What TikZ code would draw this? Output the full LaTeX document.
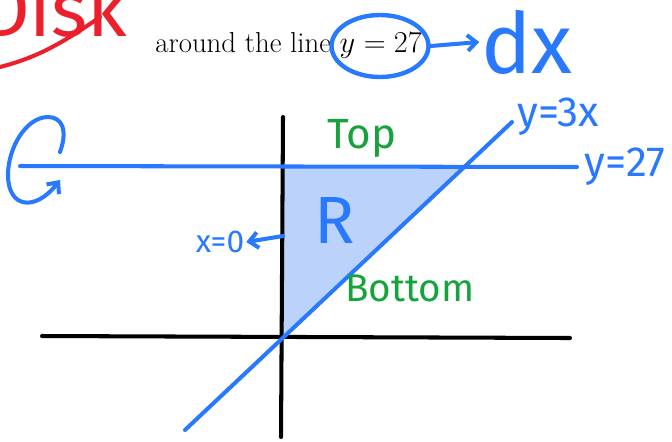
\documentclass[tikz,border=0pt]{standalone}
\usepackage{amsmath}
\usepackage{fontspec}
\newfontfamily\handfont{Fira Sans}
\usetikzlibrary{arrows.meta,shapes.geometric}
\definecolor{penblue}{RGB}{41,121,255}
\definecolor{pengreen}{RGB}{22,163,60}
\definecolor{penred}{RGB}{236,32,44}
\definecolor{regionfill}{RGB}{187,211,251}

\begin{document}
\begin{tikzpicture}[x=0.02cm,y=-0.02cm,>={Straight Barb[length=5pt,width=9pt]}, line join=round, line cap=round,
	pen/.style={penblue,line width=2.3pt},
	axis/.style={black,line width=2.3pt},
	hand/.style={font=\handfont\fontsize{#1}{#1}\selectfont, inner sep=1pt}]
	\def\xmin{0} \def\xmax{672} \def\ymin{0} \def\ymax{441}
	\useasboundingbox (\xmin,\ymin) rectangle (\xmax,\ymax);
	\clip (\xmin,\ymin) rectangle (\xmax,\ymax);
	% heading
	\node[hand=44, text=penred, anchor=base west] (disk) at (-22,36) {Disk};
	\draw[penred,line width=2.3pt] (0,67) .. controls (35,58) and (60,45) .. (100,17);
	\node[anchor=base west, font=\fontsize{16.4}{20}\selectfont, inner sep=0pt] (line) at (155,52) {around the line $y=27$};
	\node[draw=penblue, line width=2.5pt, ellipse, minimum width=1.94cm, minimum height=1.24cm] (ring) at (380,46) {};
	\node[hand=48, text=penblue] (dx) at (527,42) {dx};
	\draw[pen,->] (ring.east) -- (dx.west);
	% region
	\coordinate (O) at (283,337);
	\coordinate (A) at (283,166);
	\coordinate (B) at (462,166);
	\fill[regionfill] (O)--(A)--(B)--cycle;
	\draw[axis] (42,336)--(570,338);
	\draw[axis] (283,117)--(281,437);
	\draw[pen] (20,166)--(577,167) node[hand=24, text=penblue, anchor=west, xshift=2pt] (top line) {y=27};
	\draw[pen] (185,430)--(512,122) node[hand=24, text=penblue, anchor=south west, xshift=1pt, yshift=-10pt] (slant line) {y=3x};
	% labels
	\node[hand=24, text=pengreen] (top) at (362,138) {Top};
	\node[hand=22, text=pengreen] (bottom) at (410,288) {Bottom};
	\node[hand=38, text=penblue] (R) at (335,220) {R};
	\node[hand=18, text=penblue] (x0) at (220,242) {x=0};
	\coordinate (yaxis) at (283,236);
	\draw[pen,->] (yaxis) -- (x0.east);
	% rotation
	\draw[pen,->] (60,152) .. controls (68,130) and (62,117) .. (48,117)
		.. controls (26,117) and (8,148) .. (8,175)
		.. controls (8,208) and (35,212) .. (60,180);
\end{tikzpicture}
\end{document}
